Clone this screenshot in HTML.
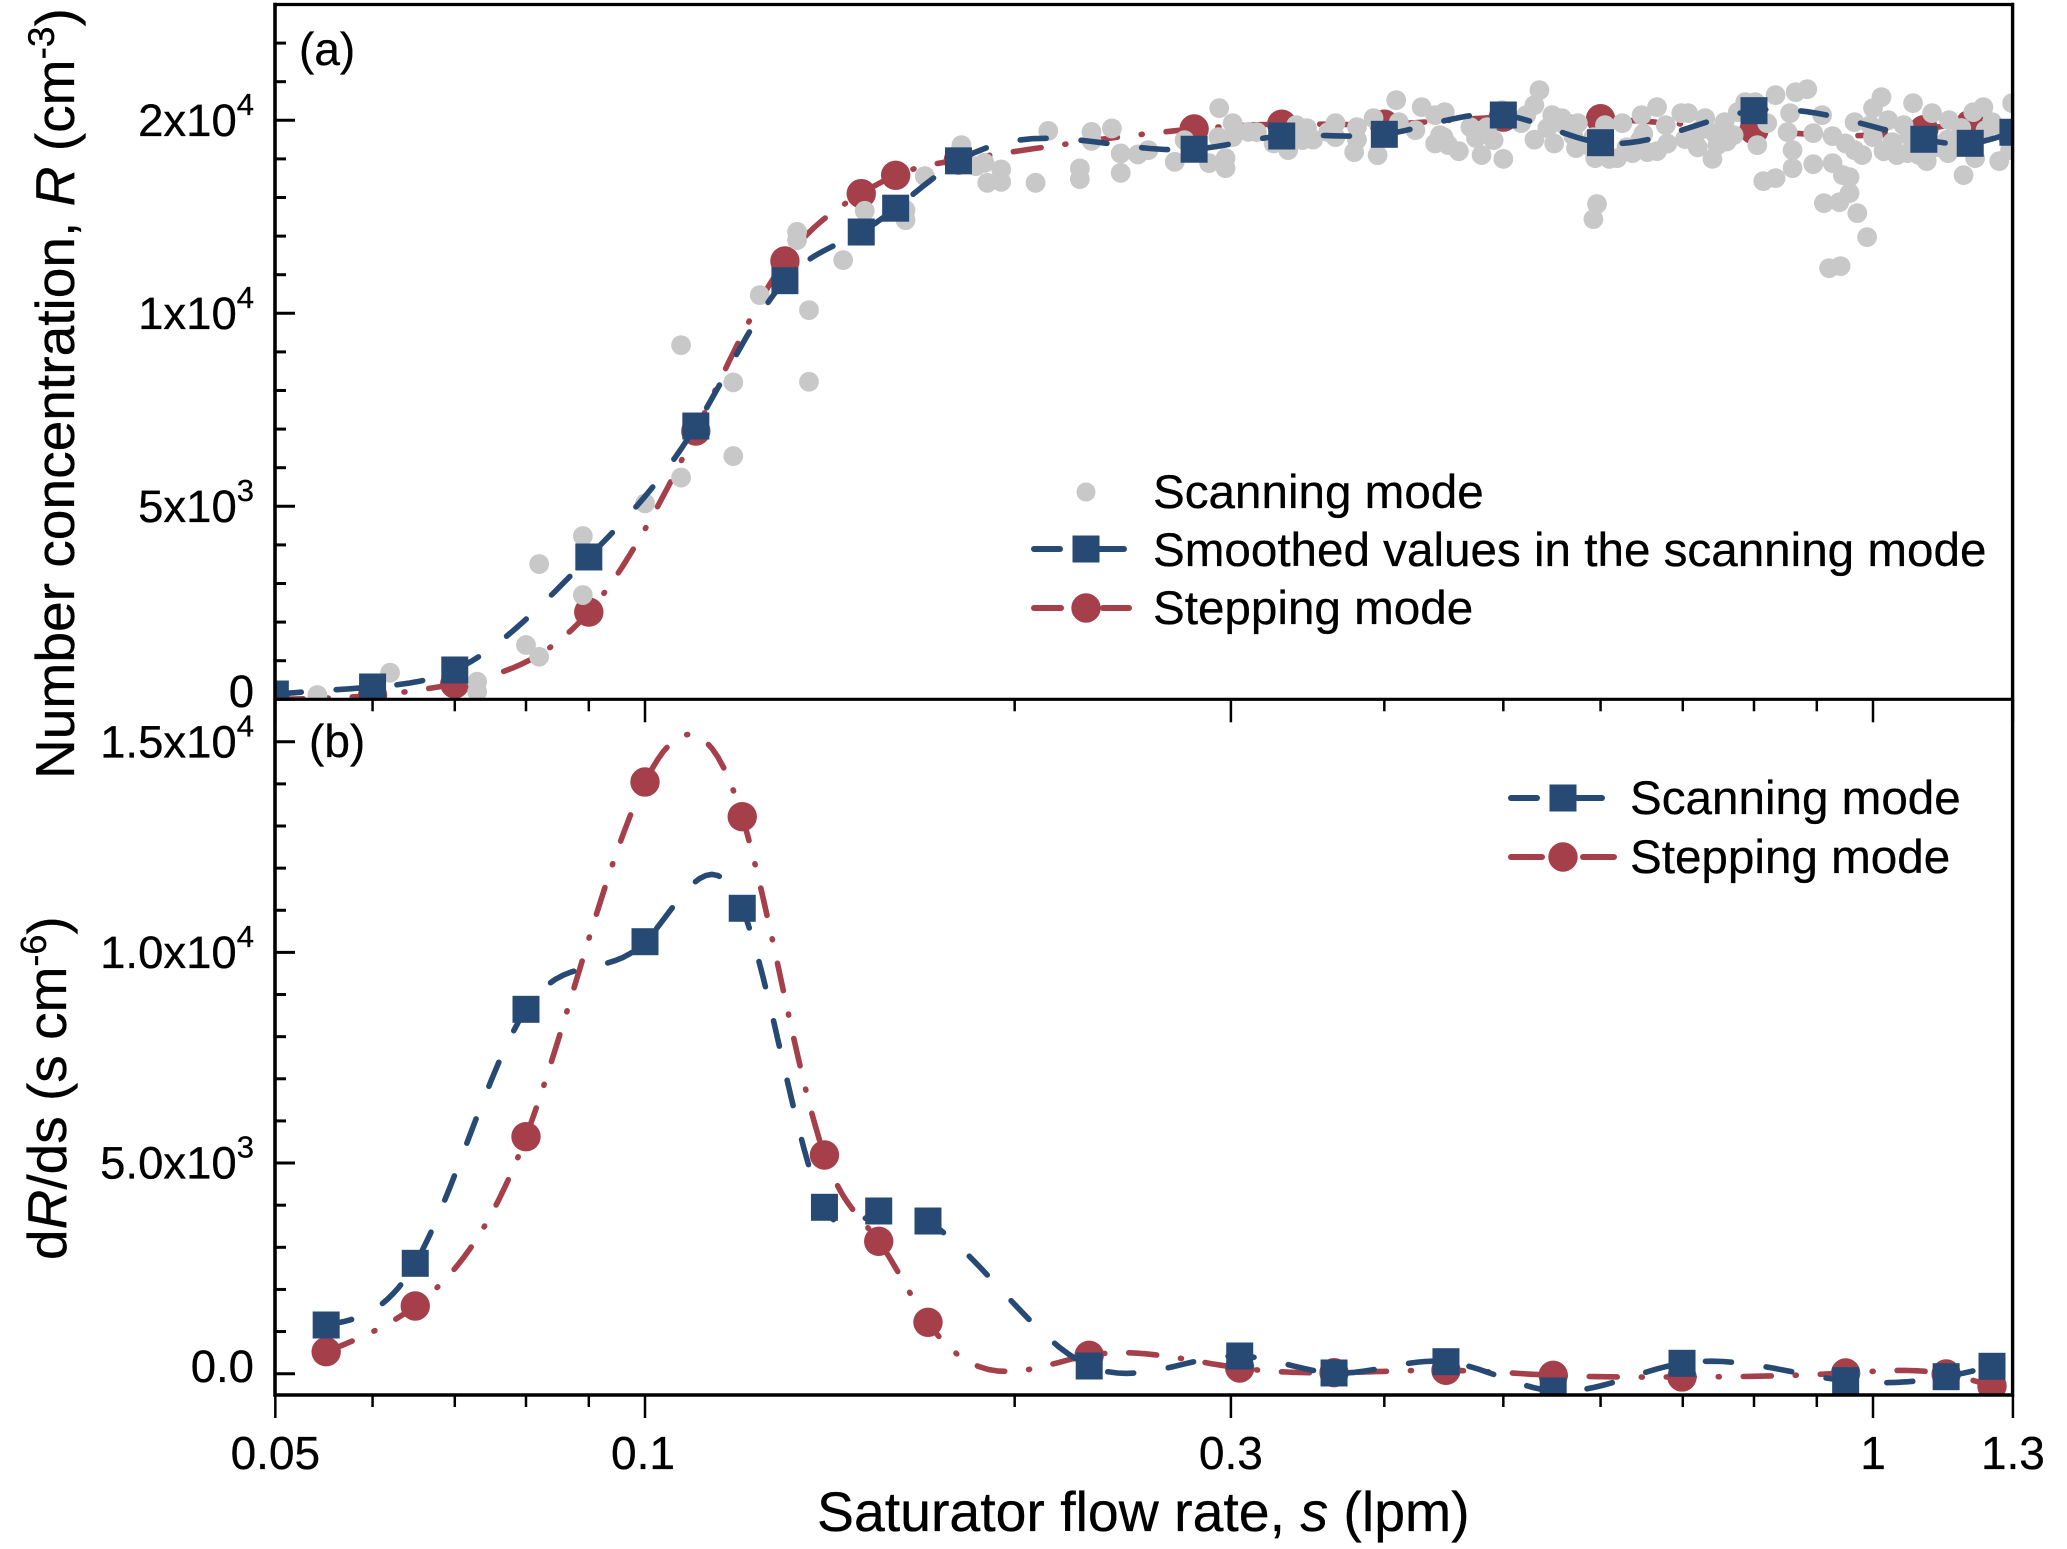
<!DOCTYPE html>
<html lang="en">
<head>
<meta charset="utf-8">
<title>Number concentration versus saturator flow rate</title>
<style>
  html, body { margin: 0; padding: 0; background: #ffffff; }
  svg { display: block; }
  text { font-family: "Liberation Sans", sans-serif; fill: #000000; stroke: #000000; stroke-width: 0.3px; }
</style>
</head>
<body>
<svg id="chart" xmlns="http://www.w3.org/2000/svg" width="2067" height="1549" viewBox="0 0 2067 1549">
  <defs>
    <clipPath id="clip-a"><rect x="275" y="4.5" width="1737.6" height="694.8"></rect></clipPath>
    <clipPath id="clip-b"><rect x="275" y="699.3" width="1737.6" height="695.7"></rect></clipPath>
  </defs>
  <g id="panel-a-data" clip-path="url(#clip-a)"></g>
  <g id="panel-b-data" clip-path="url(#clip-b)"></g>
  <g id="axes"></g>

  <text x="299" y="65" font-size="46">(a)</text>
  <text x="309" y="757" font-size="46">(b)</text>

  <text x="817" y="1531" font-size="55.4">Saturator flow rate, <tspan font-style="italic">s</tspan> (lpm)</text>
  <text transform="translate(74 779) rotate(-90)" font-size="55.1">Number concentration, <tspan font-style="italic">R</tspan> (cm<tspan font-size="37" dy="-20">-3</tspan><tspan dy="20">)</tspan></text>
  <text transform="translate(66 1260) rotate(-90)" font-size="55">d<tspan font-style="italic">R</tspan>/ds (s cm<tspan font-size="36" dy="-20">-6</tspan><tspan dy="20">)</tspan></text>

  <g>
    <circle cx="1086" cy="492" r="9.5" fill="#c8c8c8"></circle>
    <text x="1153" y="508" font-size="47.6">Scanning mode</text>
    <line x1="1034" y1="549" x2="1060" y2="549" stroke="#274a75" stroke-width="6" stroke-linecap="round"></line>
    <line x1="1086" y1="549" x2="1124" y2="549" stroke="#274a75" stroke-width="6" stroke-linecap="round"></line>
    <rect x="1072.5" y="535.5" width="27" height="27" fill="#274a75"></rect>
    <text x="1153" y="566" font-size="47.6">Smoothed values in the scanning mode</text>
    <line x1="1034" y1="608" x2="1061" y2="608" stroke="#a53f4a" stroke-width="6" stroke-linecap="round"></line>
    <line x1="1103" y1="608" x2="1129" y2="608" stroke="#a53f4a" stroke-width="6" stroke-linecap="round"></line>
    <circle cx="1086" cy="608" r="14.7" fill="#a53f4a"></circle>
    <text x="1153" y="624" font-size="47.6">Stepping mode</text>
  </g>

  <g>
    <line x1="1511" y1="798" x2="1537" y2="798" stroke="#274a75" stroke-width="6" stroke-linecap="round"></line>
    <line x1="1563" y1="798" x2="1602" y2="798" stroke="#274a75" stroke-width="6" stroke-linecap="round"></line>
    <rect x="1549.5" y="784.5" width="27" height="27" fill="#274a75"></rect>
    <text x="1630" y="814" font-size="47.6">Scanning mode</text>
    <line x1="1511" y1="857" x2="1542" y2="857" stroke="#a53f4a" stroke-width="6" stroke-linecap="round"></line>
    <line x1="1583" y1="857" x2="1614" y2="857" stroke="#a53f4a" stroke-width="6" stroke-linecap="round"></line>
    <circle cx="1563" cy="857" r="14.7" fill="#a53f4a"></circle>
    <text x="1630" y="873" font-size="47.6">Stepping mode</text>
  </g>
</svg>

<script>
// ---- Panel (a) data: the printed y axis is equally spaced, so values are on that linear scale ----
const smoothedFlow = [0.05, 0.06, 0.07, 0.09, 0.11, 0.13, 0.15, 0.16, 0.18, 0.28, 0.33, 0.40, 0.50, 0.60, 0.80, 1.10, 1.20, 1.30];
const smoothedConc = [137, 319, 759, 3687, 7080, 10845, 12106, 12723, 13950, 14250, 14593, 14637, 15137, 14420, 15250, 14508, 14404, 14690];
const steppingFlow = [0.05, 0.06, 0.07, 0.09, 0.11, 0.13, 0.15, 0.16, 0.18, 0.28, 0.33, 0.40, 0.50, 0.60, 0.80, 1.10, 1.20, 1.30];
const steppingConc = [0, 100, 400, 2260, 6950, 11355, 13100, 13575, 13970, 14775, 14900, 14900, 15080, 15040, 14750, 14755, 14900, 14600];
const scanFlow = [0.0541,0.062,0.073,0.073,0.08,0.082,0.089,0.082,0.089,0.10,0.107,0.118,0.107,0.118,0.136,0.124,0.136,0.133,0.133,0.145,0.151,0.163,0.163,0.169,0.181,0.19,0.195,0.195,0.189,0.186,0.208,0.213,0.226,0.226,0.231,0.231,0.24,0.244,0.244,0.252,0.257,0.27,0.275,
  0.2935,0.301,0.301,0.293,0.288,0.297,0.297,0.315,0.334,0.343,0.346,0.339,0.36,0.365,0.365,0.378,0.395,0.38,0.392,0.409,0.411,0.424,0.429,0.44,0.448,0.444,0.451,0.447,0.475,0.47,0.491,0.485,0.499,0.522,0.53,0.535,0.517,0.543,0.548,0.558,0.561,0.575,0.573,0.592,0.594,0.596,0.592,
  0.605,0.625,0.648,0.667,0.678,0.698,0.707,0.73,0.619,0.637,0.655,0.667,0.703,0.646,0.747,0.743,0.77,0.776,0.787,0.802,0.833,0.865,0.884,0.82,0.805,0.852,0.86,0.86,0.856,0.814,0.833,0.894,0.927,0.945,0.957,0.957,0.912,0.939,0.971,0.989,0.921,0.941,0.894,0.909,0.927,0.966,0.966,
  1.0,1.0,1.016,1.029,1.037,1.046,1.067,1.059,1.078,1.106,1.117,1.153,1.151,1.185,1.211,1.207,1.23,1.25,1.267,1.298,1.098,1.17,1.193,1.293,0.723,0.757,0.995,1.113,1.235,
  0.31,0.325,0.35,0.38,0.44,0.46,0.48,0.50,0.53,0.55,0.57,0.59,0.61,0.63,0.65,0.68,0.72,0.74,0.76,0.95,0.98,1.02,1.07,1.09,1.13,1.15,1.18,1.28];
const scanConc = [110,689,456,197,1406,1103,4229,3504,2701,5076,5745,6301,9176,8210,8226,10471,10083,12111,11896,11378,12655,12673,12414,13553,14356,13380,13406,13727,13898,13812,13380,14727,13753,13476,14701,14468,14789,14141,13639,14116,14227,13924,14486,
  15315,14926,14564,14564,13890,14020,13760,14693,14227,14486,14797,14875,14693,14926,14564,14175,14098,14823,15056,15522,14952,14745,15341,15134,15211,14616,14357,14564,14538,14823,14486,14823,15263,15134,15393,15781,14926,14797,15134,15056,14875,14926,14279,14564,14020,12830,12440,
  14875,14926,15134,15341,14875,15185,15185,15056,14020,14150,14175,14201,14512,14486,14357,14668,14616,15211,15470,15470,15652,15729,15807,14926,14357,14693,14227,13761,15185,13424,13502,13864,13890,13580,13528,13113,12854,12880,12595,11974,11171,11223,14667,15134,14590,14952,14227,
  14564,15315,15600,15004,14434,14098,14150,14875,15444,13942,15185,15004,14150,13580,14020,15211,15341,14952,13942,15444,14564,14408,14304,14227,14745,14952,14875,14486,14745,
  14700,14400,14500,14500,14400,14200,14100,14000,14500,14400,14600,14300,14000,14300,14650,14400,14300,14000,14450,14400,14100,14200,14600,14100,14300,14500,14800,14700];

// ---- Panel (b) data ----
const derivFlow = [0.055, 0.065, 0.08, 0.10, 0.12, 0.14, 0.155, 0.17, 0.23, 0.305, 0.364, 0.449, 0.549, 0.699, 0.95, 1.147, 1.25];
const derivScanning = [1156, 2620, 8649, 10254, 11047, 3950, 3862, 3624, 183, 420, 17, 285, -410, 247, -166, -71, 176];
const derivStepping = [522, 1607, 5626, 14045, 13221, 5191, 3142, 1220, 437, 135, 24, 80, -38, -78, 17, -7, -292];

// ---- Ticks ----
const xMajorTicks = [0.05, 0.1, 0.3, 1, 1.3];
const xMajorLabels = ["0.05", "0.1", "0.3", "1", "1.3"];
const xMinorTicks = [0.06, 0.07, 0.08, 0.09, 0.2, 0.4, 0.5, 0.6, 0.7, 0.8, 0.9];
const yTicksA = [0, 5000, 10000, 15000];
const yLabelsA = [["0", ""], ["5x10", "3"], ["1x10", "4"], ["2x10", "4"]];
const yMinorA = [1000, 2000, 3000, 4000, 6000, 7000, 8000, 9000, 11000, 12000, 13000, 14000, 16000, 17000];
const yTicksB = [0, 5000, 10000, 15000];
const yLabelsB = [["0.0", ""], ["5.0x10", "3"], ["1.0x10", "4"], ["1.5x10", "4"]];
const yMinorB = [1000, 2000, 3000, 4000, 6000, 7000, 8000, 9000, 11000, 12000, 13000, 14000];

// ---- Axis functions ----
const NS = "http://www.w3.org/2000/svg";
const LEFT = 275, RIGHT = 2012.6, TOP = 4.5, MID = 699.3, BOTTOM = 1395;
const BLUE = "#274a75", RED = "#a53f4a", GREY = "#c8c8c8";
function xPos(s) { return 1873 + 1228 * Math.log10(s); }
function yA(v) { return 699.3 - v * 0.0386; }
function yB(v) { return 1373.7 - v * 0.04213; }

function make(tag, parent) {
  const el = document.createElementNS(NS, tag);
  parent.appendChild(el);
  return el;
}

// Natural cubic spline through the points, sampled into an SVG path
function splinePath(xs, ys) {
  const n = xs.length;
  const h = [], a = new Array(n).fill(0), b = new Array(n).fill(1), c = new Array(n).fill(0), d = new Array(n).fill(0);
  for (let i = 0; i < n - 1; i++) h.push(xs[i + 1] - xs[i]);
  for (let i = 1; i < n - 1; i++) {
    a[i] = h[i - 1];
    b[i] = 2 * (h[i - 1] + h[i]);
    c[i] = h[i];
    d[i] = 6 * ((ys[i + 1] - ys[i]) / h[i] - (ys[i] - ys[i - 1]) / h[i - 1]);
  }
  for (let i = 1; i < n; i++) {
    const m = a[i] / b[i - 1];
    b[i] -= m * c[i - 1];
    d[i] -= m * d[i - 1];
  }
  const z = new Array(n).fill(0);
  z[n - 1] = d[n - 1] / b[n - 1];
  for (let i = n - 2; i >= 0; i--) z[i] = (d[i] - c[i] * z[i + 1]) / b[i];
  let path = "M" + xs[0].toFixed(1) + " " + ys[0].toFixed(1);
  for (let i = 0; i < n - 1; i++) {
    const steps = 16;
    for (let k = 1; k <= steps; k++) {
      const t = k / steps, A = 1 - t, B = t;
      const y = A * ys[i] + B * ys[i + 1] + ((A * A * A - A) * z[i] + (B * B * B - B) * z[i + 1]) * h[i] * h[i] / 6;
      const x = xs[i] + t * h[i];
      path += "L" + x.toFixed(1) + " " + y.toFixed(1);
    }
  }
  return path;
}

function drawCurve(parent, flows, vals, yFn, color, dash, name) {
  const p = make("path", parent);
  p.setAttribute("d", splinePath(flows.map(xPos), vals.map(yFn)));
  p.setAttribute("fill", "none");
  p.setAttribute("stroke", color);
  p.setAttribute("stroke-width", "5.6");
  p.setAttribute("stroke-linecap", "round");
  p.setAttribute("stroke-dasharray", dash);
  
  
}

function drawCircles(parent, flows, vals, yFn, name) {
  flows.forEach(function (s, i) {
    const c = make("circle", parent);
    c.setAttribute("cx", xPos(s));
    c.setAttribute("cy", yFn(vals[i]));
    c.setAttribute("r", "14.7");
    c.setAttribute("fill", RED);
    
    
  });
}

function drawSquares(parent, flows, vals, yFn, name) {
  flows.forEach(function (s, i) {
    const r = make("rect", parent);
    r.setAttribute("x", xPos(s) - 13.5);
    r.setAttribute("y", yFn(vals[i]) - 13.5);
    r.setAttribute("width", "27");
    r.setAttribute("height", "27");
    r.setAttribute("fill", BLUE);
    
    
  });
}

// ---- Panel (a) marks: stepping under grey dots, smoothed on top ----
const pa = document.getElementById("panel-a-data");
drawCurve(pa, steppingFlow, steppingConc, yA, RED, "28 24 1 24", "stepping-line-a");
drawCircles(pa, steppingFlow, steppingConc, yA, "stepping-point-a");
scanFlow.forEach(function (s, i) {
  const c = make("circle", pa);
  c.setAttribute("cx", xPos(s));
  c.setAttribute("cy", yA(scanConc[i]));
  c.setAttribute("r", "9.9");
  c.setAttribute("fill", GREY);
  
  
});
drawCurve(pa, smoothedFlow, smoothedConc, yA, BLUE, "26 35", "smoothed-line-a");
drawSquares(pa, smoothedFlow, smoothedConc, yA, "smoothed-point-a");

// ---- Panel (b) marks ----
const pb = document.getElementById("panel-b-data");
drawCurve(pb, derivFlow, derivStepping, yB, RED, "28 24 1 24", "stepping-line-b");
drawCircles(pb, derivFlow, derivStepping, yB, "stepping-point-b");
drawCurve(pb, derivFlow, derivScanning, yB, BLUE, "26 35", "scanning-line-b");
drawSquares(pb, derivFlow, derivScanning, yB, "scanning-point-b");

// ---- Axes ----
const axes = document.getElementById("axes");
function tick(x1, y1, x2, y2, w, name) {
  const l = make("line", axes);
  l.setAttribute("x1", x1);
  l.setAttribute("y1", y1);
  l.setAttribute("x2", x2);
  l.setAttribute("y2", y2);
  l.setAttribute("stroke", "#000");
  l.setAttribute("stroke-width", w);
  
  
}
function yLabel(parent, label, y) {
  const t = make("text", parent);
  t.setAttribute("x", 254);
  t.setAttribute("y", y);
  t.setAttribute("font-size", "45.5");
  t.setAttribute("text-anchor", "end");
  t.textContent = label[0];
  
  
  if (label[1]) {
    const sup = make("tspan", t);
    sup.setAttribute("font-size", "31");
    sup.setAttribute("dy", "-21");
    sup.textContent = label[1];
  }
}

// Frame
tick(LEFT, TOP - 1.7, LEFT, BOTTOM + 1.7, 3.6, "left-axis-line");
tick(RIGHT, TOP - 1.7, RIGHT, BOTTOM + 1.7, 3.4, "right-axis-line");
tick(LEFT, TOP, RIGHT, TOP, 3.2, "top-axis-line");
tick(LEFT, MID, RIGHT, MID, 3.2, "middle-axis-line");
tick(LEFT, BOTTOM, RIGHT, BOTTOM, 3.4, "x-axis-line");

// Y ticks (pointing inward)
yTicksA.forEach(function (v, i) {
  tick(LEFT, yA(v), LEFT + 20, yA(v), 3, "y-major-tick-a");
  yLabel(axes, yLabelsA[i], v === 0 ? 707 : yA(v) + 15.5);
});
yMinorA.forEach(function (v) {
  tick(LEFT, yA(v), LEFT + 11, yA(v), 3, "y-minor-tick-a");
});
yTicksB.forEach(function (v, i) {
  tick(LEFT, yB(v), LEFT + 20, yB(v), 3, "y-major-tick-b");
  yLabel(axes, yLabelsB[i], v === 0 ? 1382 : yB(v) + 15.5);
});
yMinorB.forEach(function (v) {
  tick(LEFT, yB(v), LEFT + 11, yB(v), 3, "y-minor-tick-b");
});

// X ticks (pointing downward from both the middle and the bottom axes)
[MID, BOTTOM].forEach(function (base) {
  xMajorTicks.forEach(function (s) {
    tick(xPos(s), base, xPos(s), base + 23, 2.5, "x-major-tick");
  });
  xMinorTicks.forEach(function (s) {
    tick(xPos(s), base, xPos(s), base + 12, 2.5, "x-minor-tick");
  });
});
xMajorTicks.forEach(function (s, i) {
  const t = make("text", axes);
  t.setAttribute("x", xPos(s) - (i === 1 ? 2 : 0));
  t.setAttribute("y", 1469);
  t.setAttribute("font-size", "46");
  t.setAttribute("text-anchor", "middle");
  t.textContent = xMajorLabels[i];
  
  
});
</script>
</body>
</html>
